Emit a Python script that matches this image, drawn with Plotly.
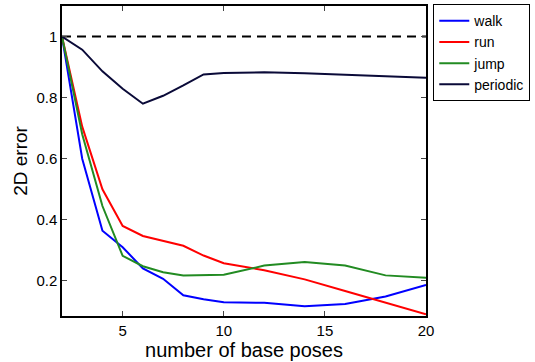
import plotly.graph_objects as go

x_vals = [2, 3, 4, 5, 6, 7, 8, 9, 10, 12, 14, 16, 18, 20]
walk = [1.0, 0.60, 0.364, 0.31, 0.241, 0.207, 0.153, 0.14, 0.13, 0.128, 0.117, 0.124, 0.149, 0.187]
run = [1.0, 0.705, 0.50, 0.38, 0.347, 0.33, 0.315, 0.283, 0.258, 0.235, 0.205, 0.167, 0.128, 0.091]
jump = [1.0, 0.68, 0.445, 0.282, 0.248, 0.228, 0.218, 0.22, 0.22, 0.25, 0.262, 0.25, 0.218, 0.21]
periodic = [1.0, 0.957, 0.886, 0.829, 0.78, 0.806, 0.84, 0.876, 0.881, 0.883, 0.88, 0.875, 0.87, 0.865]
baseline_x = [2, 20]
baseline_y = [1, 1]

series = [("walk", walk, "#0000ff"), ("run", run, "#ff0000"),
          ("jump", jump, "#228b22"), ("periodic", periodic, "#0a0a38")]

fig = go.Figure()
fig.add_trace(go.Scatter(x=baseline_x, y=baseline_y, mode="lines", showlegend=False,
                         line=dict(color="black", width=2, dash="9px,6px")))
for name, ys, col in series:
    fig.add_trace(go.Scatter(x=x_vals, y=ys, mode="lines", name=name,
                             line=dict(color=col, width=2)))

font = "Liberation Sans"
fig.update_layout(
    width=535, height=362,
    margin=dict(l=62, r=109, t=4, b=46),
    paper_bgcolor="white", plot_bgcolor="white",
    font=dict(family=font, size=15, color="black"),
    legend=dict(x=1.02, y=1.006, xanchor="left", yanchor="top",
                bordercolor="black", borderwidth=1, bgcolor="white",
                font=dict(family=font, size=14), tracegroupgap=0, itemwidth=30),
    showlegend=True,
)
fig.update_xaxes(range=[2, 20], tickvals=[5, 10, 15, 20], ticks="inside", ticklen=5,
                 showline=True, linecolor="black", linewidth=1.5, mirror="ticks",
                 showgrid=False, zeroline=False,
                 tickfont=dict(family=font, size=15),
                 title=dict(text="number of base poses", font=dict(family=font, size=20), standoff=0))
fig.update_yaxes(range=[0.085, 1.1], tickvals=[0.2, 0.4, 0.6, 0.8, 1],
                 ticktext=["0.2", "0.4", "0.6", "0.8", "1"], ticks="inside", ticklen=5,
                 showline=True, linecolor="black", linewidth=1.5, mirror="ticks",
                 showgrid=False, zeroline=False,
                 tickfont=dict(family=font, size=15),
                 title=dict(text="2D error", font=dict(family=font, size=19), standoff=4))

fig.write_html("out.html")
